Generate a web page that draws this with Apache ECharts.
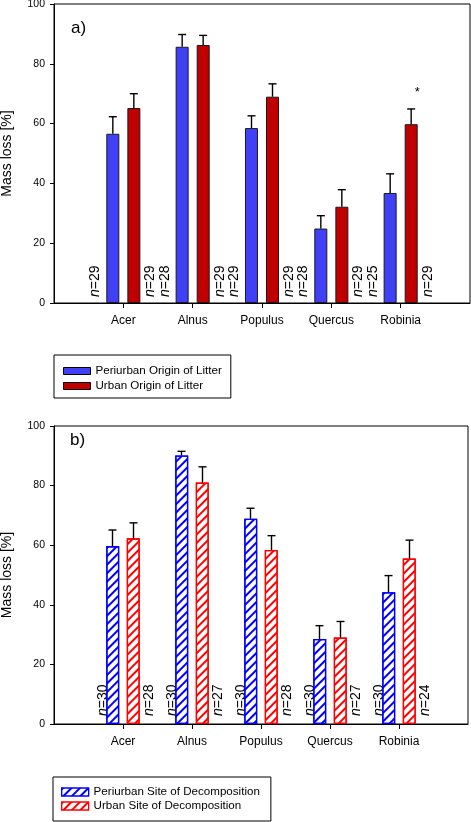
<!DOCTYPE html>
<html>
<head>
<meta charset="utf-8">
<script src="https://cdn.jsdelivr.net/npm/echarts@6/dist/echarts.min.js"></script>
<style>
html,body{margin:0;padding:0;background:#fff;}
#chart{width:471px;height:822px;}
</style>
</head>
<body>
<div id="chart"></div>
<script>
// ---- data ----
const categories = ['Acer', 'Alnus', 'Populus', 'Quercus', 'Robinia'];

// panel a) origin of litter
const aPeriurban   = [56.6, 85.7, 58.5, 24.9, 36.8];
const aPeriurbanSE = [5.7, 4.1, 4.1, 4.3, 6.4];
const aUrban       = [65.2, 86.3, 69.0, 32.2, 59.8];
const aUrbanSE     = [4.8, 3.2, 4.3, 5.7, 5.1];
const aNPeriurban  = [29, 28, 29, 28, 25];
const aNUrban      = [29, 29, 29, 29, 29];
const aSignif      = ['', '', '', '', '*'];

// panel b) site of decomposition
const bPeriurban   = [59.7, 90.1, 68.9, 28.5, 44.2];
const bPeriurbanSE = [5.4, 1.4, 3.5, 4.5, 5.6];
const bUrban       = [62.3, 81.0, 58.4, 29.0, 55.5];
const bUrbanSE     = [5.2, 5.3, 4.8, 5.4, 6.2];
const bNPeriurban  = [30, 30, 30, 30, 30];
const bNUrban      = [28, 27, 28, 27, 24];

const yMin = 0, yMax = 100, yStep = 20;
const legendA = ['Periurban Origin of Litter', 'Urban Origin of Litter'];
const legendB = ['Periurban Site of Decomposition', 'Urban Site of Decomposition'];

// ---- styling ----
const FONT = 'Liberation Sans, Arial, Helvetica, sans-serif';
const axisCats = [''].concat(categories, ['']);

function xAxis(gi) {
  return {
    type: 'category', gridIndex: gi, data: axisCats, boundaryGap: false,
    axisLine: {show: true, lineStyle: {color: '#000', width: 1}},
    axisTick: {show: true, length: 5, lineStyle: {color: '#000'}, interval: (i, v) => v !== ''},
    axisLabel: {interval: 0, fontSize: 12, color: '#000', fontFamily: FONT, margin: 12},
    splitLine: {show: false}
  };
}
function yAxis(gi) {
  return {
    type: 'value', gridIndex: gi, min: yMin, max: yMax, interval: yStep,
    name: 'Mass loss [%]', nameLocation: 'middle', nameGap: 40, nameRotate: 90,
    nameTextStyle: {fontSize: 14, color: '#000', fontFamily: FONT},
    axisLine: {show: true, lineStyle: {color: '#000', width: 1}},
    axisTick: {show: true, length: 4, lineStyle: {color: '#000'}},
    axisLabel: {fontSize: 10.5, color: '#000', fontFamily: FONT, margin: 9},
    splitLine: {show: false}
  };
}
function pairs(vals) { return categories.map((c, i) => [c, vals[i]]); }

function barSeries(gi, name, vals, style, decal, gap) {
  const s = {
    type: 'bar', name: name, xAxisIndex: gi, yAxisIndex: gi,
    data: pairs(vals), barWidth: 13, barGap: gap, z: 3,
    itemStyle: style, animation: false, silent: true
  };
  if (decal) s.itemStyle.decal = decal;
  return s;
}

function errSeries(gi, vals, se, dx, sig) {
  return {
    type: 'custom', xAxisIndex: gi, yAxisIndex: gi, z: 4, silent: true, animation: false,
    encode: {x: 0, y: [1, 2]},
    data: categories.map((c, i) => [c, vals[i], vals[i] + se[i]]),
    renderItem: function (p, api) {
      const xi = api.value(0);
      const b = api.coord([xi, api.value(1)]);
      const t = api.coord([xi, api.value(2)]);
      const cx = b[0] + dx;
      const ls = {stroke: '#000', lineWidth: 1.4};
      const children = [
        {type: 'line', shape: {x1: cx, y1: b[1], x2: cx, y2: t[1]}, style: ls},
        {type: 'line', shape: {x1: cx - 4, y1: t[1], x2: cx + 4, y2: t[1]}, style: ls}
      ];
      if (sig && sig[p.dataIndex]) {
        children.push({type: 'text', x: cx + 6, y: t[1] - 17,
          style: {text: sig[p.dataIndex], fill: '#000', fontSize: 13, fontFamily: FONT,
                  align: 'center', verticalAlign: 'middle'}});
      }
      return {type: 'group', children: children};
    }
  };
}

function nSeries(gi, ns, dx, dy) {
  return {
    type: 'custom', xAxisIndex: gi, yAxisIndex: gi, z: 1, silent: true, animation: false,
    encode: {x: 0, y: 1},
    data: categories.map((c, i) => [c, 0]),
    renderItem: function (p, api) {
      const pt = api.coord([api.value(0), 0]);
      return {
        type: 'text', x: pt[0] + dx, y: pt[1] - dy, rotation: Math.PI / 2,
        style: {
          text: '{i|n}=' + ns[p.dataIndex], fill: '#000', fontSize: 14, fontFamily: FONT,
          align: 'left', verticalAlign: 'middle',
          rich: {i: {fontStyle: 'italic', fontSize: 14, fontFamily: FONT, fill: '#000'}}
        }
      };
    }
  };
}

function hatch(color) {
  return {symbol: 'rect', symbolSize: 1, color: color, dashArrayX: [1, 0], dashArrayY: [2, 4],
          rotation: -Math.PI / 4};
}

const BAR_OFF = 10.5;
const chart = echarts.init(document.getElementById('chart'), null, {renderer: 'canvas'});
chart.setOption({
  animation: false,
  backgroundColor: '#fff',
  title: [
    {text: 'a)', left: 71, top: 20, padding: 0, textStyle: {fontSize: 17, fontWeight: 'normal', color: '#000', fontFamily: FONT}},
    {text: 'b)', left: 70, top: 432, padding: 0, textStyle: {fontSize: 17, fontWeight: 'normal', color: '#000', fontFamily: FONT}}
  ],
  grid: [
    {left: 54, top: 4, width: 416, height: 299, show: true, borderColor: '#000', borderWidth: 1,
     containLabel: false, outerBoundsMode: 'none'},
    {left: 54, top: 426, width: 414, height: 298, show: true, borderColor: '#000', borderWidth: 1,
     containLabel: false, outerBoundsMode: 'none'}
  ],
  legend: [
    {data: legendA, left: 54, top: 355, orient: 'vertical', icon: 'rect', itemWidth: 27, itemHeight: 7,
     itemGap: 1, padding: [9, 9, 5, 9], borderColor: '#000', borderWidth: 1, selectedMode: false,
     itemStyle: {borderWidth: 1, borderColor: '#000'},
     textStyle: {fontSize: 11.6, lineHeight: 14, color: '#000', fontFamily: FONT}},
    {data: legendB, left: 53, top: 777, orient: 'vertical', icon: 'rect', itemWidth: 27, itemHeight: 8,
     itemGap: 0, padding: [8, 11, 8, 8], borderColor: '#000', borderWidth: 1, selectedMode: false,
     itemStyle: {borderWidth: 1.2},
     textStyle: {fontSize: 11.6, lineHeight: 14, color: '#000', fontFamily: FONT}}
  ],
  xAxis: [xAxis(0), xAxis(1)],
  yAxis: [yAxis(0), yAxis(1)],
  series: [
    barSeries(0, legendA[0], aPeriurban, {color: '#4040f6', borderColor: '#1a1a1a', borderWidth: 1}, null, '62%'),
    barSeries(0, legendA[1], aUrban, {color: '#c00000', borderColor: '#1a1a1a', borderWidth: 1}, null, '62%'),
    errSeries(0, aPeriurban, aPeriurbanSE, -BAR_OFF, null),
    errSeries(0, aUrban, aUrbanSE, BAR_OFF, aSignif),
    nSeries(0, aNPeriurban, -28, 6),
    nSeries(0, aNUrban, 27, 6),

    barSeries(1, legendB[0], bPeriurban, {color: '#ffffff', borderColor: '#0000ff', borderWidth: 1.3}, hatch('#0000ff'), '58%'),
    barSeries(1, legendB[1], bUrban, {color: '#ffffff', borderColor: '#ff0000', borderWidth: 1.3}, hatch('#ff0000'), '58%'),
    errSeries(1, bPeriurban, bPeriurbanSE, -BAR_OFF, null),
    errSeries(1, bUrban, bUrbanSE, BAR_OFF, null),
    nSeries(1, bNPeriurban, -20, 8),
    nSeries(1, bNUrban, 26, 8)
  ]
});
</script>
</body>
</html>
